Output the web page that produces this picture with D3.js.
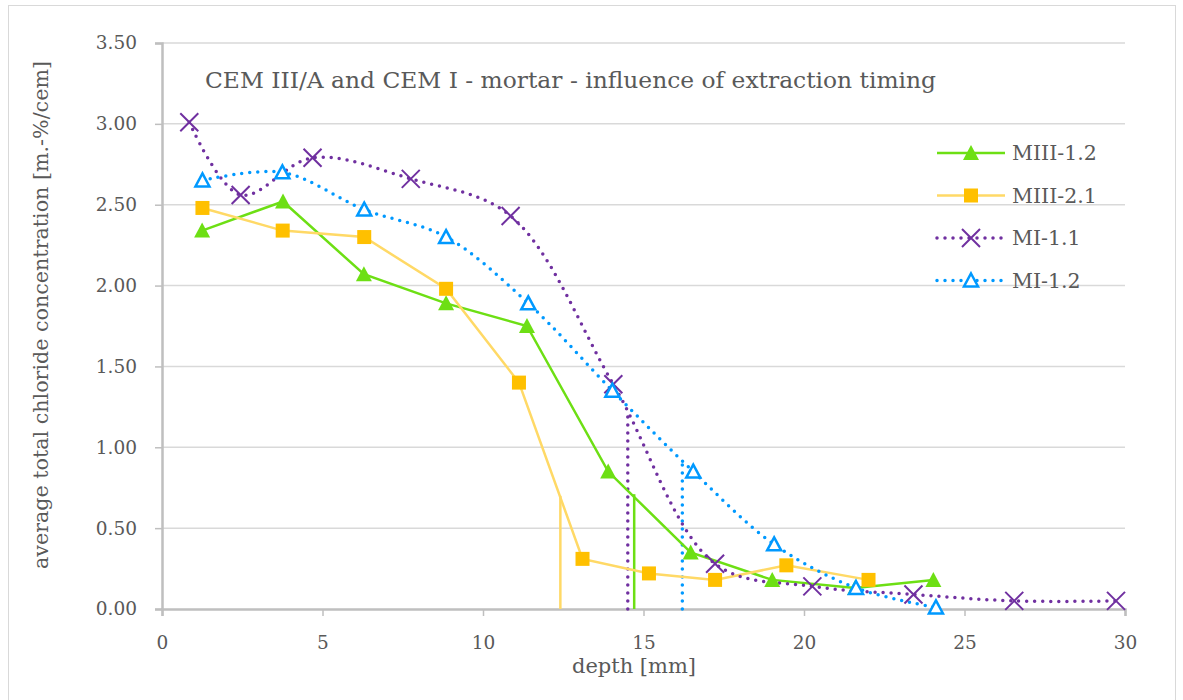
<!DOCTYPE html>
<html>
<head>
<meta charset="utf-8">
<script src="https://cdn.jsdelivr.net/npm/d3@7"></script>
<style>
  body { margin: 0; background: #fff; }
  text { font-family: "DejaVu Serif", serif; fill: #595959; }
</style>
</head>
<body>
<div id="chart"></div>
<script>
// data
var seriesNames = ["MIII-1.2", "MIII-2.1", "MI-1.1", "MI-1.2"];

var depthM12 = [1.25, 3.77, 6.29, 8.85, 11.37, 13.9, 16.47, 19.01, 21.59, 24.03];
var conM12   = [2.34, 2.52, 2.07, 1.89, 1.75, 0.85, 0.35, 0.18, 0.13, 0.18];

var depthM21 = [1.26, 3.76, 6.3, 8.85, 11.12, 13.1, 15.17, 17.23, 19.45, 22.01];
var conM21   = [2.48, 2.34, 2.30, 1.98, 1.40, 0.31, 0.22, 0.18, 0.27, 0.18];

var depthMI11 = [0.85, 2.45, 4.69, 7.75, 10.86, 14.06, 17.23, 20.26, 23.41, 26.55, 29.72];
var conMI11   = [3.01, 2.56, 2.79, 2.66, 2.43, 1.39, 0.28, 0.14, 0.09, 0.05, 0.05];

var depthMI12 = [1.26, 3.75, 6.3, 8.85, 11.41, 14.03, 16.55, 19.07, 21.62, 24.11];
var conMI12   = [2.65, 2.70, 2.47, 2.30, 1.89, 1.35, 0.85, 0.40, 0.13, 0.01];

// penetration depth markers (vertical lines), same order as seriesNames
var penDepth = [14.71, 12.41, 14.51, 16.21];
var penConc  = [0.71, 0.70, 1.20, 0.90];

var xTicks = [0, 5, 10, 15, 20, 25, 30];
var yTicks = [0, 0.5, 1, 1.5, 2, 2.5, 3, 3.5];

var svgWidth = 1183;
var svgHeight = 700;
var margin = { top: 43, right: 58, bottom: 91, left: 162 };
var width = svgWidth - margin.left - margin.right;
var height = svgHeight - margin.top - margin.bottom;

var svg = d3.select("#chart").append("svg")
    .attr("width", svgWidth)
    .attr("height", svgHeight);

// outer chart border
svg.append("rect")
    .attr("x", 8.5).attr("y", 5.5)
    .attr("width", 1167).attr("height", 720)
    .attr("fill", "none")
    .attr("stroke", "#d9d9d9");

var g = svg.append("g")
    .attr("transform", `translate(${margin.left}, ${margin.top})`);

var x = d3.scaleLinear().domain([0, 30]).range([0, width]);
var y = d3.scaleLinear().domain([0, 3.5]).range([height, 0]);

// gridlines
g.append("g")
    .selectAll("line")
    .data(yTicks.slice(1))
    .enter()
    .append("line")
    .attr("x1", 0).attr("x2", width)
    .attr("y1", d => y(d)).attr("y2", d => y(d))
    .attr("stroke", "#d9d9d9")
    .attr("stroke-width", 1.5);

// axes
var xAxis = g.append("g")
    .attr("transform", `translate(0, ${height})`)
    .call(d3.axisBottom(x).tickValues(xTicks).tickFormat(d3.format("d")).tickSize(7).tickPadding(20));
var yAxis = g.append("g")
    .call(d3.axisLeft(y).tickValues(yTicks).tickFormat(d3.format(".2f")).tickSize(7).tickPadding(18));

[xAxis, yAxis].forEach(function (ax) {
    ax.select(".domain").attr("stroke", "#bfbfbf").attr("stroke-width", 2.5);
    ax.selectAll(".tick line").attr("stroke", "#bfbfbf").attr("stroke-width", 1.5);
    ax.selectAll(".tick text")
        .attr("font-family", "DejaVu Serif")
        .attr("font-size", "18.5px")
        .attr("fill", "#595959");
});

var series = [
    { name: seriesNames[0], xs: depthM12, ys: conM12, color: "#6ddf14", mark: "#6ddf14", dotted: false, shape: "tri" },
    { name: seriesNames[1], xs: depthM21, ys: conM21, color: "#ffd966", mark: "#ffc000", dotted: false, shape: "sq" },
    { name: seriesNames[2], xs: depthMI11, ys: conMI11, color: "#7030a0", mark: "#7030a0", dotted: true, shape: "x" },
    { name: seriesNames[3], xs: depthMI12, ys: conMI12, color: "#0099ff", mark: "#0099ff", dotted: true, shape: "otri" }
];

function styleLine(sel, s) {
    sel.attr("fill", "none")
        .attr("stroke", s.color);
    if (s.dotted) {
        sel.attr("stroke-width", 3.5)
            .attr("stroke-linecap", "round")
            .attr("stroke-dasharray", "0,8");
    } else {
        sel.attr("stroke-width", 2.5);
    }
}

function drawMarker(sel, s) {
    if (s.shape === "tri") {
        sel.append("path").attr("d", "M0,-8L8,7L-8,7Z").attr("fill", s.mark);
    } else if (s.shape === "sq") {
        sel.append("rect").attr("x", -7).attr("y", -7).attr("width", 14).attr("height", 14).attr("fill", s.mark);
    } else if (s.shape === "x") {
        sel.append("path").attr("d", "M-9,-9L9,9M-9,9L9,-9")
            .attr("stroke", s.mark).attr("stroke-width", 2);
    } else {
        sel.append("path").attr("d", "M0,-7L7,6L-7,6Z")
            .attr("fill", "#fff").attr("stroke", s.mark).attr("stroke-width", 2.5);
    }
}

// penetration depth lines
series.forEach(function (s, i) {
    g.append("path")
        .datum([[penDepth[i], 0], [penDepth[i], penConc[i]]])
        .attr("d", d3.line().x(d => x(d[0])).y(d => y(d[1])))
        .call(styleLine, s);
});

// series lines
series.forEach(function (s) {
    var pts = s.xs.map((v, i) => [v, s.ys[i]]);
    var line = d3.line()
        .x(d => x(d[0]))
        .y(d => y(d[1]))
        .curve(s.dotted ? d3.curveCatmullRom.alpha(0.5) : d3.curveLinear);
    g.append("path").datum(pts).attr("d", line).call(styleLine, s);
});

// markers
series.forEach(function (s) {
    var pts = s.xs.map((v, i) => [v, s.ys[i]]);
    g.selectAll(null)
        .data(pts)
        .enter()
        .append("g")
        .attr("transform", d => `translate(${x(d[0])}, ${y(d[1])})`)
        .each(function () { drawMarker(d3.select(this), s); });
});

// legend
var legend = svg.append("g").attr("transform", "translate(935, 153)");
series.forEach(function (s, i) {
    var row = legend.append("g").attr("transform", `translate(0, ${i * 42.5})`);
    row.append("path").attr("d", "M2,0L70,0").call(styleLine, s);
    drawMarker(row.append("g").attr("transform", "translate(36, 0)"), s);
    row.append("text")
        .attr("x", 77).attr("y", 7)
        .attr("font-size", "20.5px")
        .text(s.name);
});

// title
svg.append("text")
    .attr("x", 205).attr("y", 88)
    .attr("font-size", "22px")
    .attr("textLength", 731)
    .attr("lengthAdjust", "spacingAndGlyphs")
    .text("CEM III/A and CEM I - mortar - influence of extraction timing");

// axis labels
svg.append("text")
    .attr("transform", "rotate(-90)")
    .attr("x", -315).attr("y", 48)
    .attr("text-anchor", "middle")
    .attr("font-size", "20px")
    .attr("textLength", 508)
    .attr("lengthAdjust", "spacingAndGlyphs")
    .text("average total chloride concentration [m.-%/cem]");

svg.append("text")
    .attr("x", 634).attr("y", 673)
    .attr("text-anchor", "middle")
    .attr("font-size", "20px")
    .attr("textLength", 124)
    .attr("lengthAdjust", "spacingAndGlyphs")
    .text("depth [mm]");
</script>
</body>
</html>
